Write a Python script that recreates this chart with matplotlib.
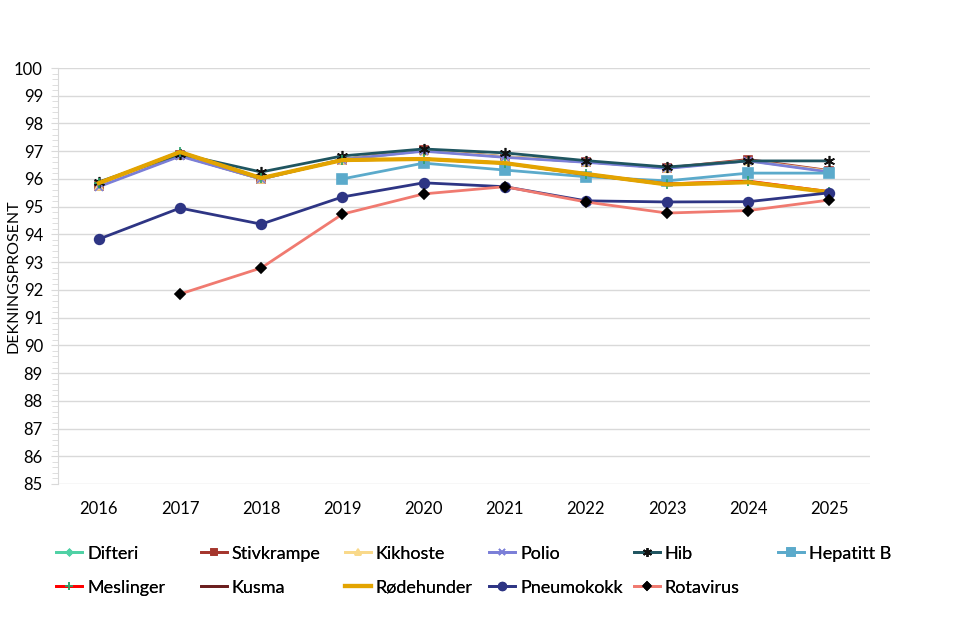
import matplotlib.pyplot as plt
import numpy as np

plt.rcParams['font.family'] = ['Lato', 'DejaVu Sans']

years = ['2016', '2017', '2018', '2019', '2020', '2021', '2022', '2023', '2024', '2025']

# dekningsprosent per vaksine (None = ingen data)
difteri = [95.75, 96.85, 96.0, 96.7, 97.02, 96.8, 96.62, 96.4, 96.66, 96.28]
stivkrampe = [95.75, 96.85, 96.0, 96.7, 97.05, 96.8, 96.62, 96.4, 96.7, 96.3]
kikhoste = [95.75, 96.85, 96.0, 96.7, 97.02, 96.8, 96.62, 96.4, 96.66, 96.28]
polio = [95.72, 96.82, 96.0, 96.7, 97.0, 96.78, 96.6, 96.38, 96.65, 96.25]
hib = [95.89, 96.9, 96.25, 96.83, 97.08, 96.94, 96.66, 96.43, 96.65, 96.65]
hepatitt_b = [None, None, None, 96.0, 96.57, 96.32, 96.08, 95.93, 96.21, 96.21]
meslinger = [95.85, 96.97, 96.03, 96.68, 96.72, 96.57, 96.18, 95.82, 95.92, 95.54]
kusma = [95.85, 96.97, 96.03, 96.68, 96.72, 96.57, 96.16, 95.8, 95.88, 95.52]
rodehunder = [95.85, 96.97, 96.03, 96.68, 96.72, 96.57, 96.18, 95.8, 95.88, 95.52]
pneumokokk = [93.83, 94.95, 94.37, 95.35, 95.86, 95.72, 95.21, 95.17, 95.18, 95.5]
rotavirus = [None, 91.85, 92.79, 94.73, 95.46, 95.72, 95.17, 94.77, 94.86, 95.24]

series = [
    ('Difteri', difteri, '#4fd1a5', 'D', '#4fd1a5', 4),
    ('Stivkrampe', stivkrampe, '#a5362d', 's', '#a5362d', 6),
    ('Kikhoste', kikhoste, '#f9d98a', '^', '#f9d98a', 6),
    ('Polio', polio, '#7b7fd8', 'x', '#7b7fd8', 6),
    ('Hib', hib, '#1f5560', (6, 2, 0), '#111111', 8),
    ('Hepatitt B', hepatitt_b, '#5baacb', 's', '#5baacb', 7),
    ('Meslinger', meslinger, '#ff0000', '+', '#2aa36b', 7),
    ('Kusma', kusma, '#6b1e1e', None, '#6b1e1e', 0),
    ('Rødehunder', rodehunder, '#e3a400', None, '#e3a400', 0),
    ('Pneumokokk', pneumokokk, '#2e3584', 'o', '#2e3584', 7),
    ('Rotavirus', rotavirus, '#f07a70', 'D', '#000000', 5),
]

fig = plt.figure(figsize=(9.7, 6.25), dpi=100)
ax = fig.add_axes([0.060, 0.2256, 0.837, 0.6656])

x = np.arange(len(years))
lines = []
for name, vals, col, mk, mcol, ms in series:
    y = np.array([np.nan if v is None else v for v in vals])
    lw = 3 if name == 'Rødehunder' else 2
    ln, = ax.plot(x, y, color=col, lw=lw, marker=mk, markersize=ms,
                  markerfacecolor=mcol, markeredgecolor=mcol, markeredgewidth=1.2,
                  label=name)
    lines.append(ln)

ax.set_xlim(-0.5, len(years) - 0.5)
ax.set_ylim(85, 100)
ax.set_yticks(np.arange(85, 101, 1))
ax.set_yticks(np.arange(85, 100.01, 0.2), minor=True)
ax.set_xticks(x)
ax.set_xticklabels(years)
ax.grid(axis='y', color='#d9d9d9', lw=1)
ax.set_axisbelow(True)
for s in ['top', 'right', 'bottom']:
    ax.spines[s].set_visible(False)
ax.spines['left'].set_color('#d9d9d9')
ax.tick_params(axis='y', which='major', length=5, color='#d9d9d9', labelsize=12, pad=6)
ax.tick_params(axis='y', which='minor', length=4, color='#d9d9d9')
ax.tick_params(axis='x', length=0, labelsize=12, pad=12)
ax.set_ylabel('DEKNINGSPROSENT', fontsize=11.5)
ax.yaxis.set_label_coords(-0.046, 0.5)

# legenden: 6 kolonner med fast avstand, 2 rader
for i in range(6):
    handles = [lines[i]]
    if i + 6 < len(lines):
        handles.append(lines[i + 6])
    leg = fig.legend(handles=handles, loc='upper left',
                     bbox_to_anchor=(0.058 + i * 0.1488, 0.127), frameon=False,
                     fontsize=13, handlelength=1.45, handletextpad=0.25,
                     borderpad=0, borderaxespad=0, labelspacing=1.0,
                     markerscale=0.8)
    fig.add_artist(leg)

fig.savefig('out.png', dpi=100)
